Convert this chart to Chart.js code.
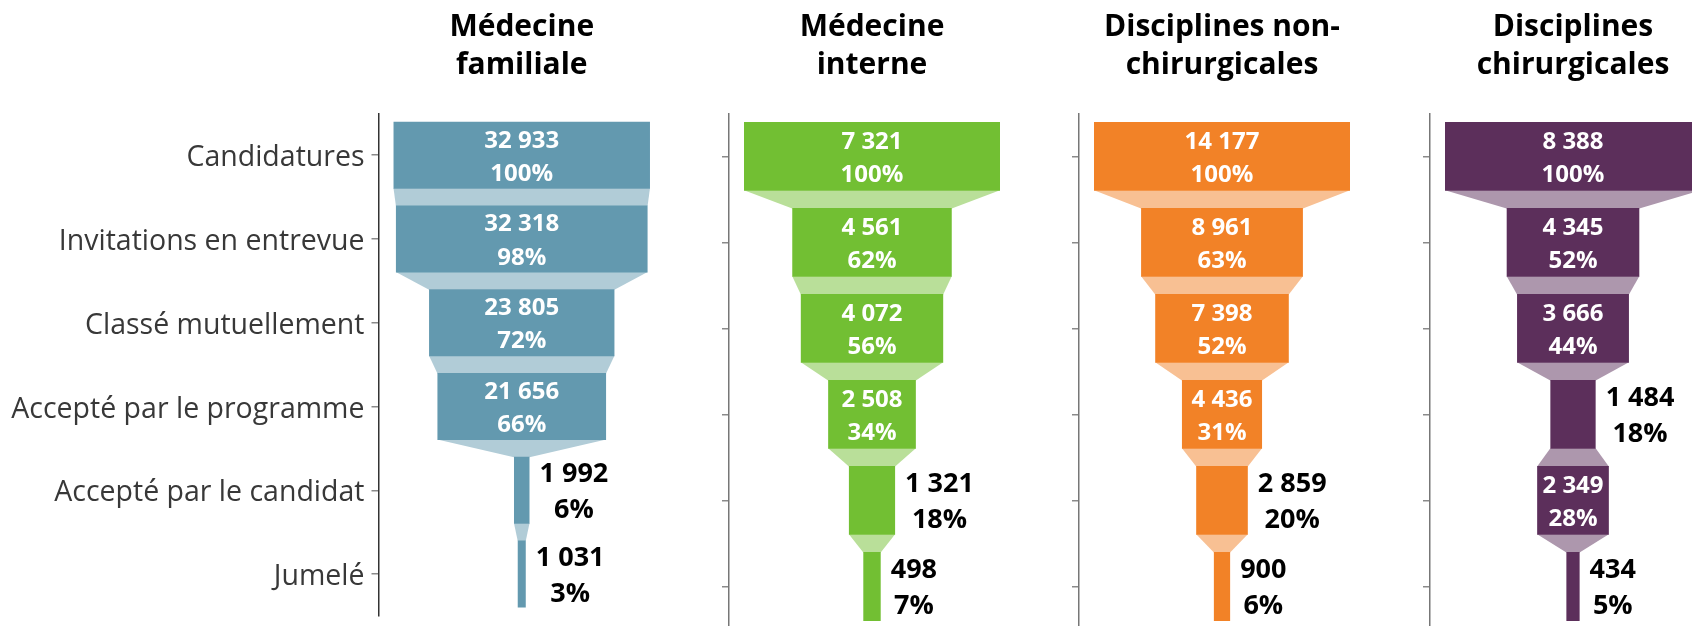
<!DOCTYPE html>
<html><head><meta charset="utf-8">
<script src="https://cdn.jsdelivr.net/npm/chart.js@4/dist/chart.umd.min.js"></script>
<style>
html,body{margin:0;padding:0;width:1692px;height:626px;overflow:hidden;background:#fff}
.p{position:absolute;top:0}
canvas{display:block}
</style></head><body>
<div class="p" id="w0"><canvas id="c0"></canvas></div>
<div class="p" id="w1"><canvas id="c1"></canvas></div>
<div class="p" id="w2"><canvas id="c2"></canvas></div>
<div class="p" id="w3"><canvas id="c3"></canvas></div>
<script>
// ---- data ----
const stages = ['Candidatures', 'Invitations en entrevue', 'Classé mutuellement', 'Accepté par le programme', 'Accepté par le candidat', 'Jumelé'];
const panelTitles = [['Médecine', 'familiale'], ['Médecine', 'interne'], ['Disciplines non-', 'chirurgicales'], ['Disciplines', 'chirurgicales']];
const medecineFamiliale = [32933, 32318, 23805, 21656, 1992, 1031];
const medecineInterne = [7321, 4561, 4072, 2508, 1321, 498];
const nonChirurgicales = [14177, 8961, 7398, 4436, 2859, 900];
const chirurgicales = [8388, 4345, 3666, 1484, 2349, 434];
const barColors = ['#6399AF', '#72BF33', '#F28227', '#5C2F5B'];
const linkColors = ['#B1CCD7', '#B9DF99', '#F8C093', '#AD97AD'];

// ---- layout ----
const AXIS_X = [378.5, 728.7, 1079.3, 1430];
const PLOT_W = 286;
const FILL = 256 / 286;
const CANVAS_H = 640;
const FONT = "'Open Sans', 'Noto Sans', sans-serif";

function fmt(v) { return String(v).replace(/\B(?=(\d{3})+(?!\d))/g, ' '); }

const linkPlugin = {
  id: 'links',
  beforeDatasetsDraw(chart, args, opts) {
    const ctx = chart.ctx;
    const els = chart.getDatasetMeta(0).data;
    ctx.save();
    ctx.fillStyle = opts.color;
    for (let k = 0; k < els.length - 1; k++) {
      const a = els[k].getProps(['x', 'base', 'y', 'height'], true);
      const b = els[k + 1].getProps(['x', 'base', 'y', 'height'], true);
      const aL = Math.min(a.x, a.base), aR = Math.max(a.x, a.base), aB = a.y + a.height / 2;
      const bL = Math.min(b.x, b.base), bR = Math.max(b.x, b.base), bT = b.y - b.height / 2;
      ctx.beginPath();
      ctx.moveTo(aL, aB - 0.5); ctx.lineTo(aR, aB - 0.5);
      ctx.lineTo(bR, bT + 0.5); ctx.lineTo(bL, bT + 0.5);
      ctx.closePath(); ctx.fill();
    }
    ctx.restore();
  }
};

const labelPlugin = {
  id: 'vlabels',
  afterDatasetsDraw(chart, args, opts) {
    const ctx = chart.ctx;
    const vals = opts.values;
    const els = chart.getDatasetMeta(0).data;
    ctx.save();
    ctx.textBaseline = 'alphabetic';
    els.forEach((el, k) => {
      const p = el.getProps(['x', 'base', 'y', 'height'], true);
      const L = Math.min(p.x, p.base), R = Math.max(p.x, p.base);
      const lines = [fmt(vals[k]), Math.round(vals[k] / vals[0] * 100) + '%'];
      ctx.font = 'bold 24px ' + FONT;
      const wIn = Math.max(...lines.map(s => ctx.measureText(s).width));
      if (wIn + 6 <= R - L) {
        ctx.fillStyle = '#ffffff';
        ctx.textAlign = 'center';
        const cx = (L + R) / 2;
        ctx.fillText(lines[0], cx, p.y - 7.6);
        ctx.fillText(lines[1], cx, p.y + 25.7);
      } else {
        ctx.font = 'bold 27px ' + FONT;
        const wOut = Math.max(...lines.map(s => ctx.measureText(s).width));
        ctx.fillStyle = '#000000';
        ctx.textAlign = 'center';
        const cx = R + 10 + wOut / 2;
        ctx.fillText(lines[0], cx, p.y - 8.4);
        ctx.fillText(lines[1], cx, p.y + 27.8);
      }
    });
    ctx.restore();
  }
};

const titlePlugin = {
  id: 'ptitle',
  afterDraw(chart, args, opts) {
    const ctx = chart.ctx;
    const ca = chart.chartArea;
    const cx = (ca.left + ca.right) / 2;
    ctx.save();
    ctx.font = 'bold 30px ' + FONT;
    ctx.fillStyle = '#000000';
    ctx.textAlign = 'center';
    ctx.textBaseline = 'alphabetic';
    ctx.fillText(opts.lines[0], cx, 36);
    ctx.fillText(opts.lines[1], cx, 74);
    ctx.restore();
  }
};

function makePanel(i, values) {
  const yW = i === 0 ? AXIS_X[0] : 30;
  const left = AXIS_X[i] - yW;
  const W = Math.round(yW + PLOT_W);
  const wrap = document.getElementById('w' + i);
  wrap.style.left = left + 'px';
  const cv = document.getElementById('c' + i);
  cv.width = W; cv.height = CANVAS_H;
  cv.style.width = W + 'px'; cv.style.height = CANVAS_H + 'px';
  const half = Math.max(...values) / 2 / FILL;
  new Chart(cv.getContext('2d'), {
    type: 'bar',
    data: {
      labels: stages,
      datasets: [{
        data: values.map(v => [-v / 2, v / 2]),
        backgroundColor: barColors[i],
        borderWidth: 0,
        categoryPercentage: 1,
        barPercentage: 0.8
      }]
    },
    options: {
      indexAxis: 'y',
      responsive: false,
      animation: false,
      devicePixelRatio: 1,
      layout: { padding: { top: 113.3, bottom: 10.5, left: 0, right: 0 } },
      plugins: {
        legend: { display: false },
        tooltip: { enabled: false },
        links: { color: linkColors[i] },
        vlabels: { values: values },
        ptitle: { lines: panelTitles[i] }
      },
      scales: {
        x: { display: false, min: -half, max: half },
        y: {
          position: 'left',
          grid: { drawOnChartArea: false, drawTicks: true, tickLength: 7, tickColor: '#8a8a8a', offset: false, lineWidth: 1.5 },
          border: { display: true, color: i === 0 ? '#333333' : '#777777', width: 1.5 },
          ticks: { display: i === 0, color: '#383838', padding: 7, labelOffset: 3, font: { family: FONT, size: 28.5, weight: 'normal' } },
          afterFit(scale) { scale.width = yW; }
        }
      }
    },
    plugins: [linkPlugin, labelPlugin, titlePlugin]
  });
}

makePanel(0, medecineFamiliale);
makePanel(1, medecineInterne);
makePanel(2, nonChirurgicales);
makePanel(3, chirurgicales);
</script>
</body></html>
